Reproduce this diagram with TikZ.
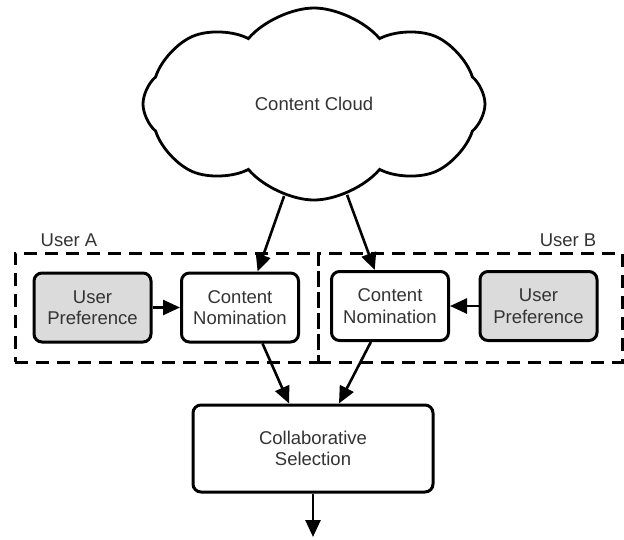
\documentclass[tikz,border=0pt]{standalone}
\usepackage{fontspec}
\setmainfont{Liberation Sans}
\usetikzlibrary{arrows.meta,shapes.symbols}
\newcommand{\bw}{117pt}
\newcommand{\bh}{69pt}

\begin{document}
\begin{tikzpicture}[x=1pt,y=-1pt,
    font=\fontsize{18.5}{21.5}\selectfont, text=black!80,
    box/.style={draw, line width=3pt, rounded corners=8pt, align=center, inner sep=0pt, minimum width=\bw, minimum height=\bh},
    pref/.style={box, fill=black!14},
    group/.style={draw, line width=3pt, dash pattern=on 13pt off 8pt, minimum height=109pt, inner sep=0pt},
    flow/.style={line width=2.6pt, -{Triangle[length=17pt,width=15pt]}}]
    \useasboundingbox (0,0) rectangle (624,539);

    % Cloud
    \node[draw, line width=2.8pt, cloud, cloud puffs=8, cloud puff arc=100, aspect=1.8,
          minimum width=342pt, minimum height=192pt, inner sep=0pt] (cloud) at (314,104) {Content Cloud};

    % User groups
    \node[group, minimum width=303pt] (grpA) at (166.5,307.5) {};
    \node[group, minimum width=304pt] (grpB) at (470,307.5) {};
    \node[anchor=base west, inner sep=0pt] (labA) at ([xshift=27pt,yshift=5pt]grpA.north west) {User A};
    \node[anchor=base east, inner sep=0pt] (labB) at ([xshift=-27pt,yshift=5pt]grpB.north east) {User B};

    % Boxes
    \node[pref] (upA) at (92.5,307.5) {User\\Preference};
    \node[box] (cnA) at (240,307.5) {Content\\Nomination};
    \node[box] (cnB) at (390,306) {Content\\Nomination};
    \node[pref] (upB) at (538.5,306) {User\\Preference};
    \node[box, minimum width=240pt, minimum height=87pt] (cs) at (313,448.5) {Collaborative\\Selection};
    \coordinate (out) at (313,537);

    % Connectors
    \draw[flow] (cloud.252) -- (cnA.64);
    \draw[flow] (cloud.290) -- (cnB.113);
    \draw[flow] (upA) -- (cnA);
    \draw[flow] (upB) -- (cnB);
    \draw[flow] (cnA.302) -- (cs.118);
    \draw[flow] (cnB.242) -- (cs.60);
    \draw[flow] (cs.south) -- (out);

\end{tikzpicture}
\end{document}
